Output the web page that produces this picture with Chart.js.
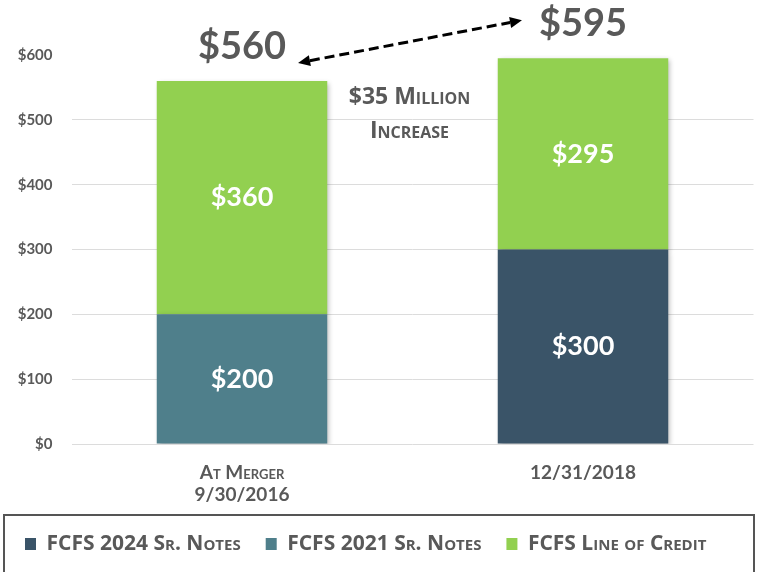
<!DOCTYPE html>
<html>
<head>
<meta charset="utf-8">
<script src="https://cdn.jsdelivr.net/npm/chart.js@4/dist/chart.umd.min.js"></script>
<style>
  html, body { margin: 0; padding: 0; background: #ffffff; }
  #wrap { width: 760px; height: 572px; position: relative; }
</style>
</head>
<body>
<div id="wrap"><canvas id="debt"></canvas></div>
<script>
// Debt outstanding, $ millions
const periods = [['At Merger', '9/30/2016'], '12/31/2018'];
const notes2024 = [null, 300];
const notes2021 = [200, null];
const lineOfCredit = [360, 295];
const seriesNames = ['FCFS 2024 Sr. Notes', 'FCFS 2021 Sr. Notes', 'FCFS Line of Credit'];
const seriesColors = ['#3a5468', '#4f7f8b', '#92d050'];
const yTicks = [0, 100, 200, 300, 400, 500, 600];
const increaseText = ['$35 Million', 'Increase'];

const GREY = '#595959';
const FONT = 'Lato, "Open Sans", sans-serif';
const WIDE = '"Open Sans", Lato, sans-serif';

// soft drop shadow behind the bars
const barShadow = {
  id: 'barShadow',
  beforeDatasetsDraw(chart) {
    const ctx = chart.ctx;
    ctx.save();
    ctx.shadowColor = 'rgba(0,0,0,0.28)';
    ctx.shadowBlur = 5;
    ctx.shadowOffsetX = 2;
    ctx.shadowOffsetY = 2;
  },
  afterDatasetsDraw(chart) {
    chart.ctx.restore();
  }
};

// value inside each segment, totals above each bar, arrow and caption
const annotations = {
  id: 'annotations',
  afterDatasetsDraw(chart) {
    const ctx = chart.ctx;
    ctx.save();
    ctx.textAlign = 'center';
    ctx.textBaseline = 'middle';

    // segment values
    ctx.fillStyle = '#ffffff';
    ctx.font = 'bold 27px ' + FONT;
    chart.data.datasets.forEach((ds, di) => {
      const meta = chart.getDatasetMeta(di);
      meta.data.forEach((bar, i) => {
        const v = ds.data[i];
        if (v == null) return;
        ctx.fillText('$' + v, bar.x, (bar.y + bar.base) / 2);
      });
    });

    // totals
    const y = chart.scales.y;
    const x = chart.scales.x;
    const totals = periods.map((_, i) => chart.data.datasets.reduce((s, ds) => s + (ds.data[i] || 0), 0));
    ctx.fillStyle = GREY;
    ctx.font = 'bold 38px ' + FONT;
    const pts = totals.map((t, i) => ({ x: x.getPixelForValue(i), y: y.getPixelForValue(t) - 34, text: '$' + t }));
    pts.forEach(p => ctx.fillText(p.text, p.x, p.y));

    // dashed double-headed arrow between the totals
    const w0 = ctx.measureText(pts[0].text).width / 2;
    const w1 = ctx.measureText(pts[1].text).width / 2;
    const a = { x: pts[0].x + w0 + 12, y: pts[0].y + 16 };
    const b = { x: pts[1].x - w1 - 17, y: pts[1].y - 4 };
    const ang = Math.atan2(b.y - a.y, b.x - a.x);
    const head = 12, half = 5.5;
    ctx.strokeStyle = '#000000';
    ctx.fillStyle = '#000000';
    ctx.lineWidth = 3;
    ctx.setLineDash([10, 5]);
    ctx.beginPath();
    ctx.moveTo(a.x + Math.cos(ang) * head, a.y + Math.sin(ang) * head);
    ctx.lineTo(b.x - Math.cos(ang) * head, b.y - Math.sin(ang) * head);
    ctx.stroke();
    ctx.setLineDash([]);
    const drawHead = (tip, dir) => {
      const bx = tip.x - Math.cos(dir) * head, by = tip.y - Math.sin(dir) * head;
      ctx.beginPath();
      ctx.moveTo(tip.x, tip.y);
      ctx.lineTo(bx + Math.sin(dir) * half, by - Math.cos(dir) * half);
      ctx.lineTo(bx - Math.sin(dir) * half, by + Math.cos(dir) * half);
      ctx.closePath();
      ctx.fill();
    };
    drawHead(b, ang);
    drawHead(a, ang + Math.PI);

    // caption between the bars
    ctx.fillStyle = GREY;
    ctx.font = 'small-caps bold 23px ' + WIDE;
    const cx = (pts[0].x + pts[1].x) / 2 - 3;
    const cy = y.getPixelForValue(535);
    ctx.fillText(increaseText[0], cx, cy);
    ctx.fillText(increaseText[1], cx, cy + 34);

    // frame round the legend
    const lg = chart.legend;
    ctx.strokeStyle = '#555555';
    ctx.lineWidth = 2;
    ctx.strokeRect(4, lg.top + 6.5, 750, chart.height);
    ctx.restore();
  }
};

new Chart(document.getElementById('debt'), {
  type: 'bar',
  data: {
    labels: periods,
    datasets: [
      { label: seriesNames[0], data: notes2024, backgroundColor: seriesColors[0] },
      { label: seriesNames[1], data: notes2021, backgroundColor: seriesColors[1] },
      { label: seriesNames[2], data: lineOfCredit, backgroundColor: seriesColors[2] }
    ]
  },
  options: {
    responsive: true,
    maintainAspectRatio: false,
    animation: false,
    datasets: { bar: { categoryPercentage: 0.5, barPercentage: 1.0, borderWidth: 0 } },
    layout: { padding: { top: 55, left: 0, right: 6.5, bottom: 7.5 } },
    plugins: {
      tooltip: { enabled: false },
      legend: {
        position: 'bottom',
        align: 'start',
        labels: {
          boxWidth: 11,
          boxHeight: 12,
          padding: 25,
          color: GREY,
          font: { family: WIDE, size: 21, weight: 'small-caps bold' }
        }
      }
    },
    scales: {
      x: {
        stacked: true,
        grid: { display: false, drawTicks: false },
        border: { display: false },
        ticks: {
          padding: 17,
          color: GREY,
          font: { family: FONT, size: 19, weight: 'small-caps bold', lineHeight: 1.2 }
        },
        afterFit(scale) { scale.height = 64.5; }
      },
      y: {
        stacked: true,
        min: 0,
        max: 600,
        afterBuildTicks(scale) { scale.ticks = yTicks.map(v => ({ value: v })); },
        grid: {
          drawTicks: false,
          color: ctx => ctx.tick && ctx.tick.value === 600 ? 'rgba(0,0,0,0)' : '#dcdcdc',
          lineWidth: 1
        },
        border: { display: false },
        ticks: {
          padding: 19,
          color: GREY,
          font: { family: FONT, size: 15, weight: 'bold' },
          callback: v => '$' + v
        },
        afterFit(scale) { scale.width = 71.5; }
      }
    }
  },
  plugins: [barShadow, annotations]
});
</script>
</body>
</html>
